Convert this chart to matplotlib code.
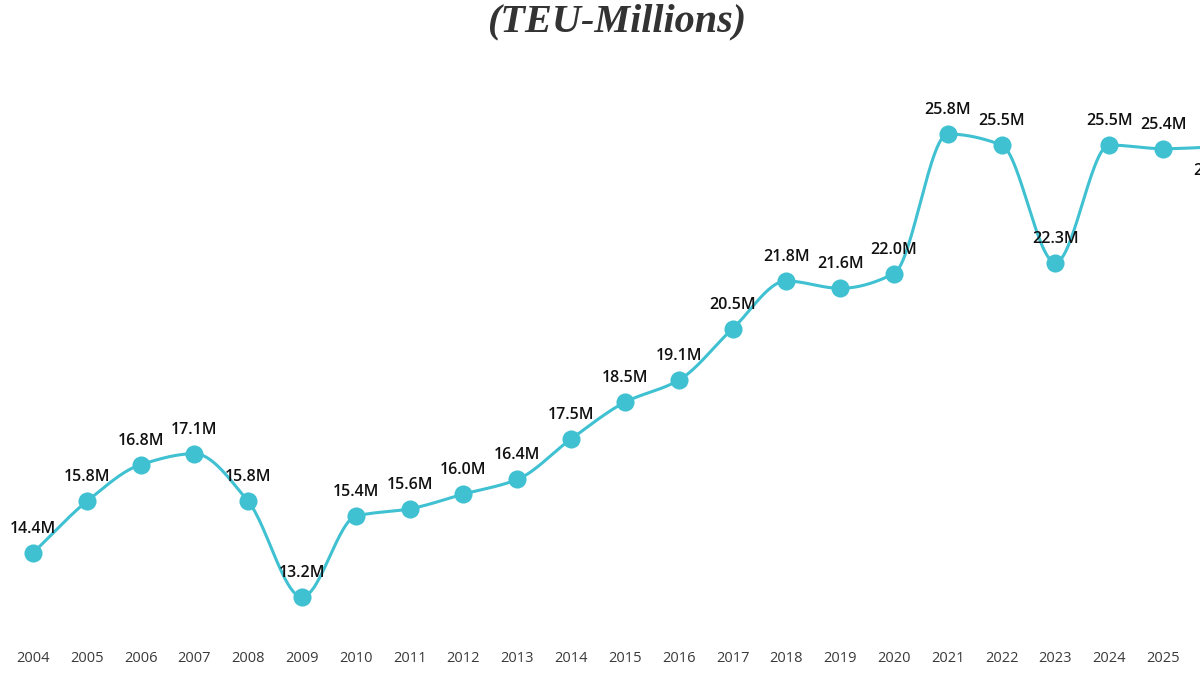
import numpy as np
import matplotlib
matplotlib.use("Agg")
import matplotlib.pyplot as plt

years = [2004, 2005, 2006, 2007, 2008, 2009, 2010, 2011, 2012, 2013, 2014,
         2015, 2016, 2017, 2018, 2019, 2020, 2021, 2022, 2023, 2024, 2025, 2026]
values = [14.4, 15.8, 16.8, 17.1, 15.8, 13.2, 15.4, 15.6, 16.0, 16.4, 17.5,
          18.5, 19.1, 20.5, 21.8, 21.6, 22.0, 25.8, 25.5, 22.3, 25.5, 25.4, 25.45]
labels = ["14.4M", "15.8M", "16.8M", "17.1M", "15.8M", "13.2M", "15.4M", "15.6M",
          "16.0M", "16.4M", "17.5M", "18.5M", "19.1M", "20.5M", "21.8M", "21.6M",
          "22.0M", "25.8M", "25.5M", "22.3M", "25.5M", "25.4M", "25.5M"]
tick_years = years[:-1]
title = "(TEU-Millions)"

COLOR = "#3fc1d2"


def monotone_curve(x, y, n=30):
    x = np.asarray(x, float)
    y = np.asarray(y, float)
    h = np.diff(x)
    d = np.diff(y) / h
    m = np.zeros_like(y)
    m[0] = d[0]
    m[-1] = d[-1]
    for i in range(1, len(y) - 1):
        if d[i - 1] * d[i] <= 0:
            m[i] = 0.0
        else:
            w1 = 2 * h[i] + h[i - 1]
            w2 = h[i] + 2 * h[i - 1]
            m[i] = (w1 + w2) / (w1 / d[i - 1] + w2 / d[i])
    xs, ys = [], []
    for i in range(len(x) - 1):
        t = np.linspace(0, 1, n, endpoint=False)
        h00 = 2 * t**3 - 3 * t**2 + 1
        h10 = t**3 - 2 * t**2 + t
        h01 = -2 * t**3 + 3 * t**2
        h11 = t**3 - t**2
        xs.append(x[i] + t * h[i])
        ys.append(h00 * y[i] + h10 * h[i] * m[i] + h01 * y[i + 1] + h11 * h[i] * m[i + 1])
    xs.append([x[-1]])
    ys.append([y[-1]])
    return np.concatenate(xs), np.concatenate(ys)


fig = plt.figure(figsize=(12, 6.75), dpi=100)
ax = fig.add_axes([0, 45 / 675, 1, 570 / 675])

cx, cy = monotone_curve(years, values)
ax.plot(cx, cy, color=COLOR, lw=2.2, zorder=2, solid_capstyle="round")
ax.scatter(years, values, s=170, color=COLOR, zorder=3, linewidths=0)

for i, (x, v, lab) in enumerate(zip(years, values, labels)):
    off = -24 if i == len(years) - 1 else 24
    ax.annotate(lab, (x, v), xytext=(0, off * 0.72), textcoords="offset points",
                ha="center", va="center", fontsize=11.5, color="#111111",
                family="Open Sans", fontweight="semibold", annotation_clip=False)

ax.set_xlim(2003.387, 2025.687)
ax.set_ylim(12.302, 27.814)
ax.set_xticks(tick_years)
ax.set_xticklabels([str(y) for y in tick_years], fontsize=10.5, color="#3a3a3a",
                   family="Open Sans")
ax.tick_params(axis="x", length=0, pad=15)
ax.set_yticks([])
for s in ax.spines.values():
    s.set_visible(False)

fig.text(617 / 1200, 1 - 31 / 675, title, ha="center", va="baseline",
         fontsize=29, fontweight="bold", fontstyle="italic",
         family="Liberation Serif", color="#333333")

fig.savefig("out.png", dpi=100, facecolor="white")
